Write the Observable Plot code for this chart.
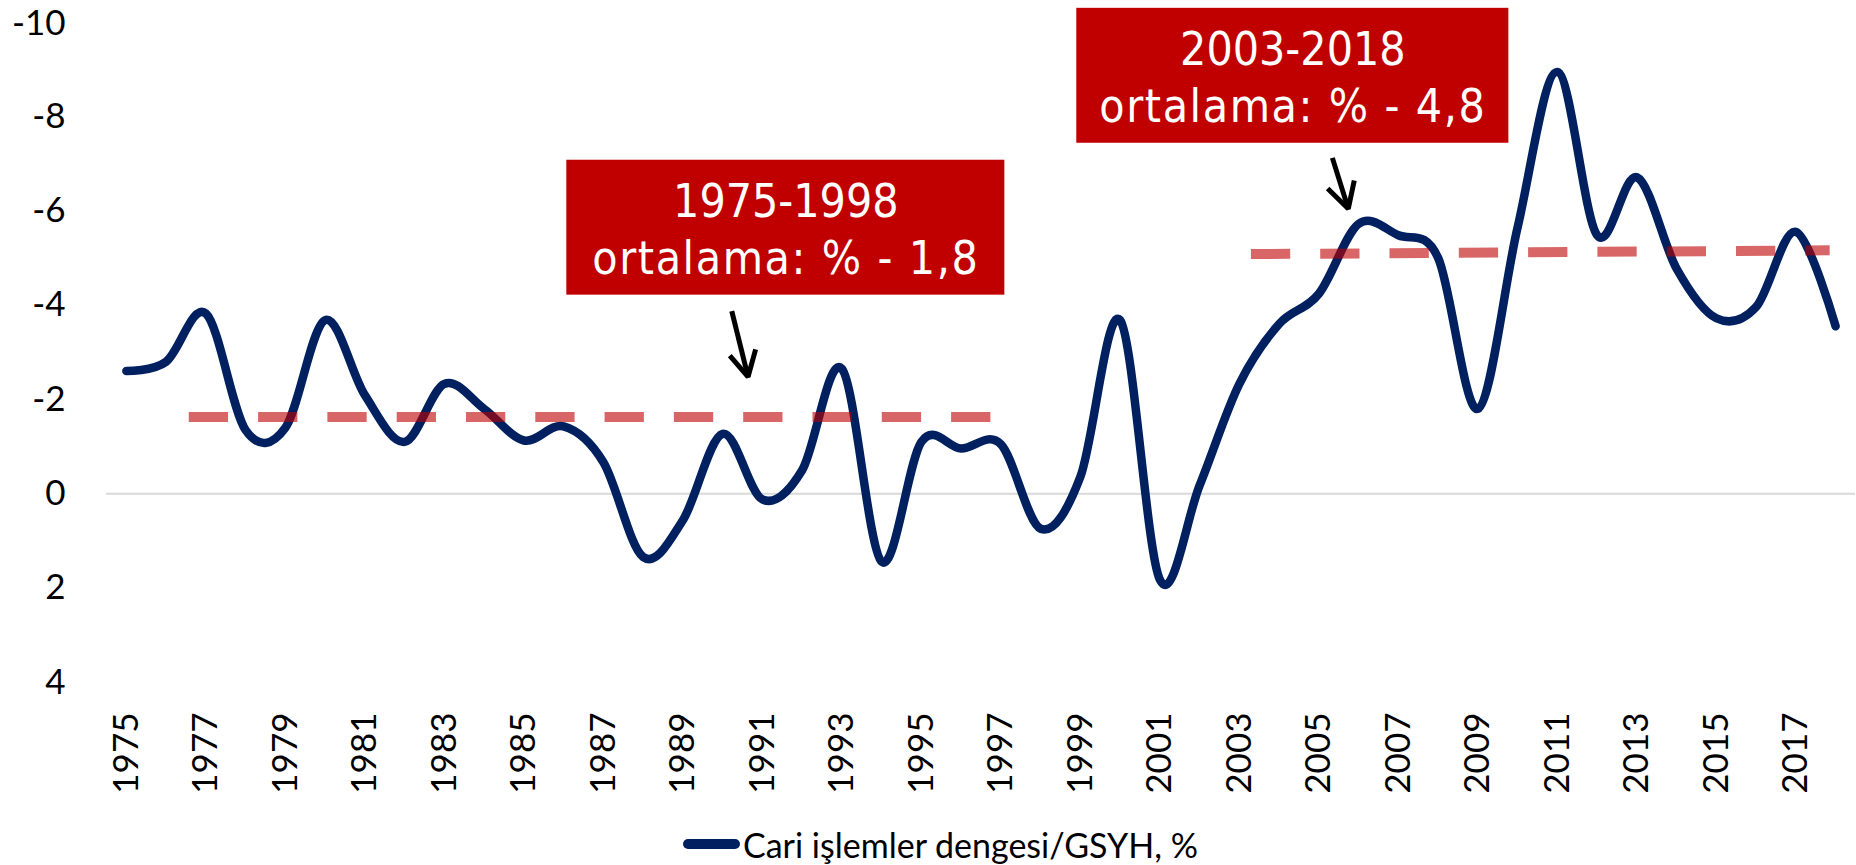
<!DOCTYPE html>
<html><head><meta charset="utf-8">
<script src="https://cdn.jsdelivr.net/npm/d3@7"></script>
<script src="https://cdn.jsdelivr.net/npm/@observablehq/plot@0.6"></script>
<style>
body{margin:0;background:#fff;}
#chart{position:relative;width:1856px;height:865px;overflow:hidden;}
#legend{position:absolute;left:683px;top:824px;height:40px;display:flex;align-items:center;font-family:Lato,sans-serif;font-size:34px;color:#000;white-space:nowrap;}
#legend .sw{width:57px;height:10px;border-radius:5px;background:#002060;margin-right:3px;}
</style></head><body>
<div id="chart"><div id="legend"><span class="sw"></span><span>Cari işlemler dengesi/GSYH, %</span></div></div>
<script>
// Data
const years = [1975,1976,1977,1978,1979,1980,1981,1982,1983,1984,1985,1986,1987,1988,1989,1990,1991,1992,1993,1994,1995,1996,1997,1998,1999,2000,2001,2002,2003,2004,2005,2006,2007,2008,2009,2010,2011,2012,2013,2014,2015,2016,2017,2018];
const values = [-2.6,-2.8,-3.82,-1.35,-1.4,-3.68,-2.09,-1.1,-2.33,-1.8,-1.13,-1.43,-0.67,1.34,0.56,-1.27,0.12,-0.5,-2.65,1.44,-1.1,-0.96,-1.05,0.74,-0.36,-3.68,1.82,-0.18,-2.33,-3.6,-4.24,-5.72,-5.48,-5.0,-1.8,-5.65,-8.94,-5.48,-6.71,-4.77,-3.72,-3.96,-5.55,-3.55];
const tickYears = [1975,1977,1979,1981,1983,1985,1987,1989,1991,1993,1995,1997,1999,2001,2003,2005,2007,2009,2011,2013,2015,2017];
const yTicks = [-10,-8,-6,-4,-2,0,2,4];
const seriesName = "Cari işlemler dengesi/GSYH, %";

// Period averages (dashed reference lines)
const avgStart = [1976.57, 2003.29];
const avgEnd = [1996.76, 2017.85];
const avgStartValue = [-1.63, -5.08];
const avgEndValue = [-1.63, -5.16];

// Annotation boxes
const boxLine1 = ["1975-1998", "2003-2018"];
const boxLine2 = ["ortalama: % - 1,8", "ortalama: % - 4,8"];
const boxX1 = [1986.08, 1998.91];
const boxX2 = [1997.10, 2009.78];
const boxTop = [-7.07, -10.29];
const boxBottom = [-4.21, -7.43];

// Arrows
const arrowFromX = [1990.23, 2005.34];
const arrowFromY = [-3.87, -7.12];
const arrowTipX = [1990.64, 2005.74];
const arrowTipY = [-2.48, -6.04];
const wingLX = [1990.18, 2005.22];
const wingLY = [-2.93, -6.47];
const wingRX = [1990.83, 2005.89];
const wingRY = [-3.06, -6.64];

const series = years.map((year, i) => ({year, value: values[i]}));
const avgs = avgStart.map((s, i) => ({x1: s, x2: avgEnd[i], y1: avgStartValue[i], y2: avgEndValue[i]}));
const boxes = boxLine1.map((t, i) => ({l1: t, l2: boxLine2[i], x1: boxX1[i], x2: boxX2[i], y1: boxTop[i], y2: boxBottom[i], xc: (boxX1[i] + boxX2[i]) / 2}));
const shafts = arrowFromX.map((x, i) => ({x1: x, y1: arrowFromY[i], x2: arrowTipX[i], y2: arrowTipY[i]}));
const heads = [];
arrowTipX.forEach((x, i) => {
  heads.push({k: i, x: wingLX[i], y: wingLY[i]});
  heads.push({k: i, x: x, y: arrowTipY[i]});
  heads.push({k: i, x: wingRX[i], y: wingRY[i]});
});

const boxFont = "'DejaVu Sans Condensed', 'DejaVu Sans', sans-serif";

const chart = Plot.plot({
  width: 1856,
  height: 815,
  marginLeft: 106,
  marginRight: 1,
  marginTop: 21.5,
  marginBottom: 133,
  style: {fontFamily: "Lato, sans-serif", fontSize: "35px", color: "#000", background: "#fff", overflow: "visible"},
  x: {type: "linear", domain: [1974.5, 2018.5], ticks: tickYears, tickFormat: d => String(d), tickRotate: -90, tickSize: 0, tickPadding: 30, label: null},
  y: {domain: [4, -10], ticks: yTicks, tickFormat: d => String(d), tickSize: 0, tickPadding: 41, label: null},
  marks: [
    Plot.ruleY([0], {stroke: "#d9d9d9", strokeWidth: 2}),
    Plot.line(series, {x: "year", y: "value", stroke: "#002060", strokeWidth: 8.5, curve: "cardinal", strokeLinecap: "round", strokeLinejoin: "round"}),
    Plot.link(avgs, {x1: "x1", y1: "y1", x2: "x2", y2: "y2", stroke: "#C00000", strokeOpacity: 0.6, strokeWidth: 10, strokeDasharray: "39.3,30", strokeLinecap: "butt"}),
    Plot.rect(boxes, {x1: "x1", x2: "x2", y1: "y1", y2: "y2", fill: "#C00000"}),
    Plot.text(boxes, {x: "xc", y: "y1", text: "l1", dy: 57, lineAnchor: "bottom", fill: "#fff", fontSize: 46, fontFamily: boxFont}),
    Plot.text(boxes, {x: "xc", y: "y1", text: "l2", dy: 114, lineAnchor: "bottom", fill: "#fff", fontSize: 46, fontFamily: boxFont, className: "box-line2"}),
    Plot.link(shafts, {x1: "x1", y1: "y1", x2: "x2", y2: "y2", stroke: "#000", strokeWidth: 5, strokeLinecap: "butt"}),
    Plot.line(heads, {x: "x", y: "y", z: "k", stroke: "#000", strokeWidth: 5, strokeLinejoin: "miter", strokeLinecap: "butt"})
  ]
});
d3.select(chart).selectAll("g.box-line2 text").style("letter-spacing", "1.6px");
// nudge the top tick label slightly so it is not clipped at the page edge
d3.select(chart).selectAll("text").filter(function() { return this.textContent === "-10"; })
  .each(function() {
    const el = d3.select(this);
    const t = el.attr("transform") || "";
    el.attr("transform", t + " translate(0,2)");
  });
document.getElementById("chart").prepend(chart);
</script>
</body></html>
